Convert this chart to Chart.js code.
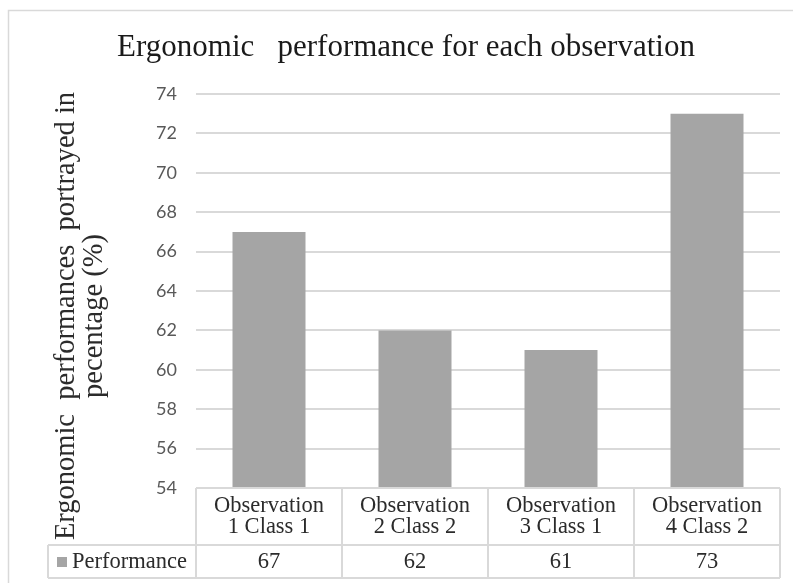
<!DOCTYPE html>
<html>
<head>
<meta charset="utf-8">
<script src="https://cdn.jsdelivr.net/npm/chart.js@4"></script>
<style>
  html, body { margin: 0; padding: 0; background: #fff; }
  #wrap { width: 793px; height: 583px; }
</style>
</head>
<body>
<div id="wrap"><canvas id="perfChart" width="793" height="583"></canvas></div>
<script>
// categories (two text lines per column of the data table)
const categories = [
    ['Observation', '1 Class 1'],
    ['Observation', '2 Class 2'],
    ['Observation', '3 Class 1'],
    ['Observation', '4 Class 2']
];
const seriesName = 'Performance';
const performance = [67, 62, 61, 73];
const yTicks = [54, 56, 58, 60, 62, 64, 66, 68, 70, 72, 74];

const chartTitle = 'Ergonomic   performance for each observation';
const yTitleLines = ['Ergonomic  performances  portrayed in', 'pecentage (%)'];

const barColor = '#a5a5a5';
const lineColor = '#d9d9d9';
const serif = '"Liberation Serif", "Times New Roman", serif';

// outer frame, title, data table under the plot and the rotated axis title
const excelParts = {
    id: 'excelParts',
    beforeDraw(chart) {
        const ctx = chart.ctx;
        ctx.save();
        ctx.fillStyle = '#fff';
        ctx.fillRect(0, 0, chart.width, chart.height);
        ctx.strokeStyle = lineColor;
        ctx.lineWidth = 1.5;
        ctx.strokeRect(8.5, 10.5, chart.width + 10, chart.height + 10);

        ctx.fillStyle = '#1a1a1a';
        ctx.font = '31px ' + serif;
        ctx.textAlign = 'center';
        ctx.textBaseline = 'middle';
        ctx.fillText(chartTitle, 406, 48);
        ctx.restore();
    },
    afterDraw(chart) {
        const ctx = chart.ctx;
        const x = chart.scales.x;
        const area = chart.chartArea;
        const colW = (x.right - x.left) / categories.length;
        const top = area.bottom;
        const mid = top + 57;
        const bottom = mid + 33;
        const legendLeft = 48;

        ctx.save();
        ctx.strokeStyle = lineColor;
        ctx.lineWidth = 2;
        ctx.beginPath();
        // horizontal lines
        ctx.moveTo(x.left, top); ctx.lineTo(x.right, top);
        ctx.moveTo(legendLeft, mid); ctx.lineTo(x.right, mid);
        ctx.moveTo(legendLeft, bottom); ctx.lineTo(x.right, bottom);
        // vertical lines
        ctx.moveTo(legendLeft, mid); ctx.lineTo(legendLeft, bottom);
        for (let i = 0; i <= categories.length; i++) {
            const px = x.left + i * colW;
            ctx.moveTo(px, top); ctx.lineTo(px, bottom);
        }
        ctx.stroke();

        ctx.fillStyle = '#2b2b2b';
        ctx.font = '22.5px ' + serif;
        ctx.textAlign = 'center';
        ctx.textBaseline = 'middle';
        categories.forEach((lines, i) => {
            const cx = x.getPixelForValue(i);
            ctx.fillText(lines[0], cx, top + 18);
            ctx.fillText(lines[1], cx, top + 39);
            ctx.fillText(String(performance[i]), cx, mid + 17);
        });

        // legend key + series name
        ctx.fillStyle = barColor;
        ctx.fillRect(57, mid + 12, 10, 10);
        ctx.fillStyle = '#2b2b2b';
        ctx.textAlign = 'left';
        ctx.fillText(seriesName, 72, mid + 17);

        // y axis title, two lines
        ctx.translate(0, 316);
        ctx.rotate(-Math.PI / 2);
        ctx.textAlign = 'center';
        ctx.font = '28.5px ' + serif;
        ctx.fillText(yTitleLines[0], 0, 67);
        ctx.fillText(yTitleLines[1], 0, 95);
        ctx.restore();
    }
};

const ctx = document.getElementById('perfChart').getContext('2d');
new Chart(ctx, {
    type: 'bar',
    data: {
        labels: categories,
        datasets: [{
            label: seriesName,
            data: performance,
            backgroundColor: barColor,
            borderWidth: 0,
            categoryPercentage: 0.5,
            barPercentage: 1
        }]
    },
    options: {
        responsive: false,
        animation: false,
        layout: { padding: { left: 0, right: 13, top: 94, bottom: 95 } },
        plugins: {
            legend: { display: false },
            tooltip: { enabled: false },
            title: { display: false }
        },
        scales: {
            x: { display: false },
            y: {
                min: yTicks[0],
                max: yTicks[yTicks.length - 1],
                afterFit(scale) { scale.width = 196; },
                afterBuildTicks(scale) { scale.ticks = yTicks.map(v => ({ value: v })); },
                border: { display: false },
                grid: { color: lineColor, lineWidth: 2, drawTicks: false },
                ticks: {
                    padding: 19,
                    color: '#595959',
                    font: { family: 'Lato', size: 18 }
                }
            }
        }
    },
    plugins: [excelParts]
});
</script>
</body>
</html>
